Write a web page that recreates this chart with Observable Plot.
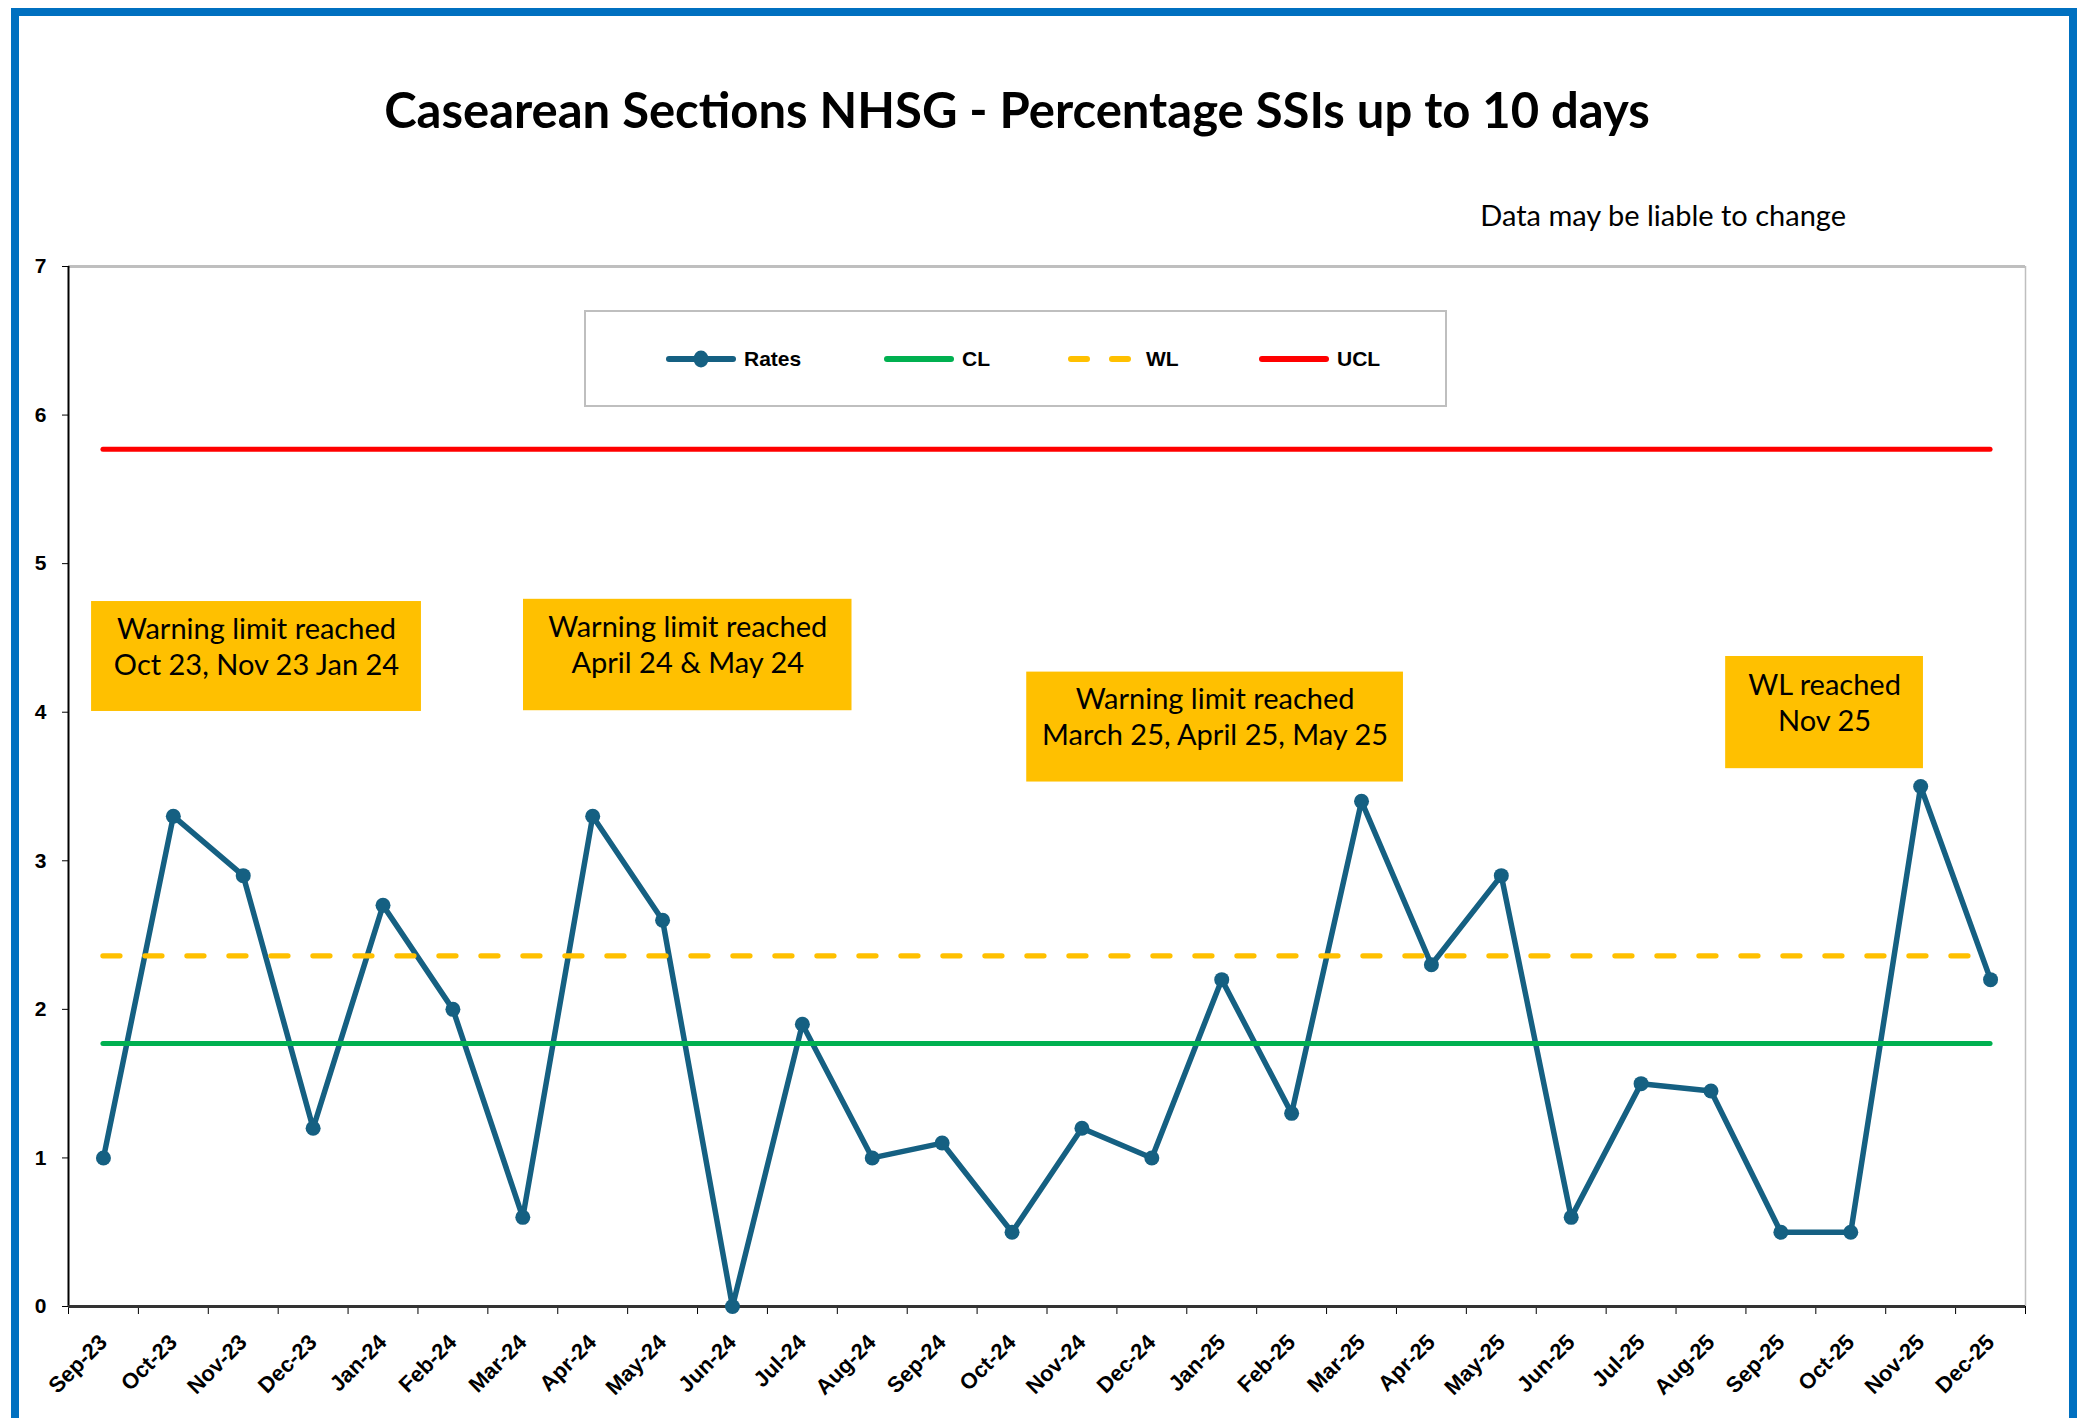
<!DOCTYPE html>
<html><head><meta charset="utf-8">
<script src="https://cdn.jsdelivr.net/npm/d3@7"></script>
<script src="https://cdn.jsdelivr.net/npm/@observablehq/plot@0.6"></script>
<style>
html,body{margin:0;padding:0;width:2088px;height:1418px;overflow:hidden;background:#fff;}
#frame{position:absolute;left:11px;top:8px;width:2050px;height:1500px;border:8px solid #0070C0;}
#title{position:absolute;left:0;width:2034px;top:85px;text-align:center;font-family:Lato,"Open Sans",sans-serif;font-weight:bold;font-size:49px;line-height:1;color:#000;white-space:nowrap;}
#subtitle{position:absolute;right:242px;top:200px;text-align:right;font-family:Lato,"Open Sans",sans-serif;font-size:29px;line-height:1;color:#000;white-space:nowrap;}
#chart{position:absolute;left:0;top:0;}
#legend{position:absolute;left:584px;top:310px;width:863px;height:97px;box-sizing:border-box;border:2px solid #BFBFBF;background:#fff;font-family:"Liberation Sans",Arial,sans-serif;font-weight:bold;font-size:21px;}
.item{position:absolute;top:0;height:93px;display:flex;align-items:center;}
.item svg{display:block;margin-right:7px;}
</style></head>
<body>
<div id="frame"></div>
<div id="chart"></div>
<div id="title">Casearean Sections NHSG - Percentage SSIs up to 10 days</div>
<div id="subtitle">Data may be liable to change</div>
<div id="legend"></div>
<script>
// ---- data ----
const months = ["Sep-23","Oct-23","Nov-23","Dec-23","Jan-24","Feb-24","Mar-24","Apr-24","May-24","Jun-24","Jul-24","Aug-24","Sep-24","Oct-24","Nov-24","Dec-24","Jan-25","Feb-25","Mar-25","Apr-25","May-25","Jun-25","Jul-25","Aug-25","Sep-25","Oct-25","Nov-25","Dec-25"];
const rates = [1.0,3.3,2.9,1.2,2.7,2.0,0.6,3.3,2.6,0.0,1.9,1.0,1.1,0.5,1.2,1.0,2.2,1.3,3.4,2.3,2.9,0.6,1.5,1.45,0.5,0.5,3.5,2.2];
const CL = 1.77;
const WL = 2.36;
const UCL = 5.77;
const yTicks = [0,1,2,3,4,5,6,7];
const legendLabels = ["Rates","CL","WL","UCL"];
// annotation boxes (in data units: x = month index, y = percentage)
const notes = [
  {text:"Warning limit reached\nOct 23, Nov 23 Jan 24", x1:-0.17, x2:4.55, y1:4.005, y2:4.745},
  {text:"Warning limit reached\nApril 24 & May 24", x1:6.01, x2:10.71, y1:4.01, y2:4.76},
  {text:"Warning limit reached\nMarch 25, April 25, May 25", x1:13.21, x2:18.6, y1:3.53, y2:4.27},
  {text:"WL reached\nNov 25", x1:23.21, x2:26.04, y1:3.62, y2:4.375}
];

const COL = {rates:"#156082", cl:"#00B050", wl:"#FFC000", ucl:"#FF0000"};
const data = months.map((m,i)=>({i, month:m, rate:rates[i]}));
const last = months.length - 1;

const chart = Plot.plot({
  width:2088, height:1418,
  marginLeft:68, marginRight:63, marginTop:266, marginBottom:112,
  style:{fontFamily:"'Liberation Sans', Arial, sans-serif", background:"transparent", color:"#000"},
  x:{type:"linear", domain:[-0.5, months.length-0.5]},
  y:{domain:[0,7]},
  marks:[
    Plot.ruleY([7], {stroke:"#BFBFBF", strokeWidth:3}),
    Plot.ruleX([months.length-0.5], {stroke:"#BFBFBF", strokeWidth:1.5}),
    Plot.axisY({ticks:yTicks, tickFormat:d=>String(d), tickSize:6, tickPadding:16, fontSize:21, fontWeight:"bold", label:null}),
    Plot.axisX({ticks:d3.range(-0.5, months.length, 1), tickFormat:()=>"", tickSize:8, label:null}),
    Plot.axisX({ticks:d3.range(months.length), tickFormat:i=>months[i], tickSize:0, tickRotate:-45, tickPadding:32, dx:0, fontSize:22, fontWeight:"bold", label:null}),
    Plot.ruleX([-0.5], {stroke:"#000", strokeWidth:2}),
    Plot.ruleY([0], {stroke:"#333", strokeWidth:3}),
    Plot.line(data, {x:"i", y:"rate", stroke:COL.rates, strokeWidth:5.5, strokeLinejoin:"round"}),
    Plot.dot(data, {x:"i", y:"rate", r:7.5, fill:COL.rates, stroke:null}),
    Plot.ruleY([CL], {x1:0, x2:last, stroke:COL.cl, strokeWidth:5, strokeLinecap:"round"}),
    Plot.ruleY([WL], {x1:0, x2:last, stroke:COL.wl, strokeWidth:5.3, strokeLinecap:"round", strokeDasharray:"17,25"}),
    Plot.ruleY([UCL], {x1:0, x2:last, stroke:COL.ucl, strokeWidth:5, strokeLinecap:"round"}),
    Plot.rect(notes, {x1:"x1", x2:"x2", y1:"y1", y2:"y2", fill:"#FFC000"}),
    Plot.text(notes, {x:d=>(d.x1+d.x2)/2, y:d=>(d.y1+d.y2)/2+0.075, text:"text", lineHeight:1.24, fontSize:29, fontFamily:"Lato, 'Open Sans', sans-serif", fill:"#000"})
  ]
});
document.getElementById("chart").appendChild(chart);

// legend
const leg = document.getElementById("legend");
const legPos = [79, 297, 481, 672];
const swatch = {
  Rates:`<svg width="72" height="18"><line x1="4" y1="9" x2="68" y2="9" stroke="${COL.rates}" stroke-width="6" stroke-linecap="round"/><ellipse cx="36" cy="9" rx="7.5" ry="8.5" fill="${COL.rates}"/></svg>`,
  CL:`<svg width="72" height="18"><line x1="4" y1="9" x2="68" y2="9" stroke="${COL.cl}" stroke-width="6" stroke-linecap="round"/></svg>`,
  WL:`<svg width="72" height="18"><line x1="4" y1="9" x2="68" y2="9" stroke="${COL.wl}" stroke-width="6" stroke-linecap="round" stroke-dasharray="16,25"/></svg>`,
  UCL:`<svg width="72" height="18"><line x1="4" y1="9" x2="68" y2="9" stroke="${COL.ucl}" stroke-width="6" stroke-linecap="round"/></svg>`
};
legendLabels.forEach((lab,k)=>{
  const d = document.createElement("div");
  d.className = "item";
  d.style.left = legPos[k] + "px";
  d.innerHTML = swatch[lab] + `<span>${lab}</span>`;
  leg.appendChild(d);
});
</script>
</body></html>
